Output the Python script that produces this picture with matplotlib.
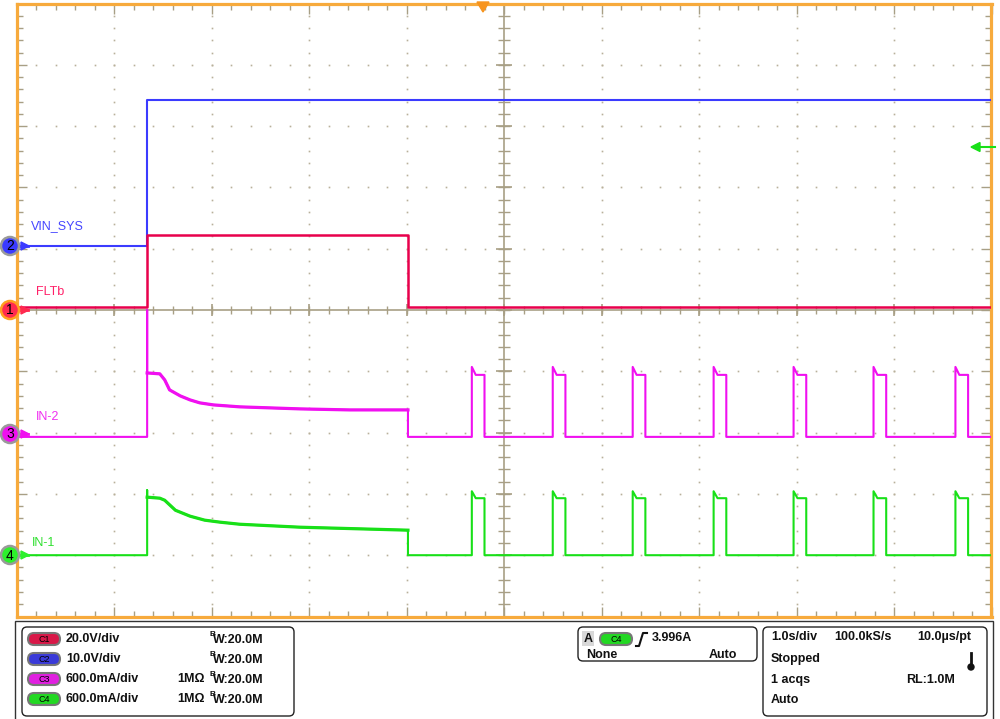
import matplotlib.pyplot as plt
import numpy as np
from matplotlib.patches import FancyBboxPatch, Circle, Polygon, Rectangle

# ---- data (time in s, 1 s/div, left edge = 0 s) ----
t_step = 1.34          # supply applied
t_fault_end = 4.015    # FLTb released
t_end = 10.0

vin_low, vin_high = 0.0, 23.8        # C2, V
fltb_low, fltb_high = 1.0, 24.5      # C1, V

# IN-2 (C3) current after the step, A
in2_decay_t = [1.34, 1.47, 1.52, 1.57, 1.68, 1.78, 1.88, 2.02, 2.29, 2.60, 2.91, 3.42, 4.015]
in2_decay_a = [0.626, 0.617, 0.558, 0.460, 0.401, 0.362, 0.333, 0.313, 0.294, 0.284, 0.274, 0.264, 0.264]
in2_step_spike = 1.24

# IN-1 (C4) current after the step, A
in1_decay_t = [1.34, 1.47, 1.52, 1.63, 1.78, 1.93, 2.09, 2.29, 2.91, 4.015]
in1_decay_a = [0.568, 0.558, 0.538, 0.440, 0.382, 0.343, 0.323, 0.303, 0.274, 0.245]
in1_step_spike = 0.636

# retry pulses after the fault clears
pulse_starts = [4.67, 5.50, 6.32, 7.15, 7.97, 8.79, 9.63]
pulse_width = 0.13
pulse_spike_len = 0.04
in2_pulse_spike, in2_pulse_flat = 0.685, 0.607
in1_pulse_spike, in1_pulse_flat = 0.626, 0.558

# channel scale (units/div) and offset (div)
scale = {'C1': 20.0, 'C2': 10.0, 'C3': 0.6, 'C4': 0.6}
offset = {'C1': 0.0, 'C2': 1.04, 'C3': -2.07, 'C4': -4.0}

col = {'C1': '#e8004c', 'C2': '#3b3bff', 'C3': '#f010f0', 'C4': '#18e018'}


def to_div(ch, v):
    return np.asarray(v) / scale[ch] + offset[ch]


def current_trace(decay_t, decay_a, step_spike, p_spike, p_flat):
    t = [0, t_step, t_step, t_step] + decay_t[1:] + [t_fault_end]
    a = [0, 0, step_spike, decay_a[0]] + decay_a[1:] + [0]
    for s in pulse_starts:
        t += [s, s, s + pulse_spike_len, s + pulse_width, s + pulse_width]
        a += [0, p_spike, p_flat, p_flat, 0]
    t.append(t_end)
    a.append(0)
    return np.array(t), np.array(a)


fig = plt.figure(figsize=(10, 7.19), dpi=100)
fig.patch.set_facecolor('white')

grid_col = '#a89f85'
ax = fig.add_axes([16.5 / 1000, (719 - 616.5) / 719, 975 / 1000, 613 / 719])
ax.set_xlim(0, 10)
ax.set_ylim(-5, 5)
ax.set_xticks(np.arange(0, 11, 1))
ax.set_yticks(np.arange(-5, 6, 1))
ax.set_xticks(np.arange(0, 10.01, 0.2), minor=True)
ax.set_yticks(np.arange(-5, 5.01, 0.2), minor=True)
ax.tick_params(which='both', direction='in', top=True, right=True,
               labelbottom=False, labelleft=False, color=grid_col, width=1)
ax.tick_params(which='major', length=7)
ax.tick_params(which='minor', length=4)
for sp in ax.spines.values():
    sp.set_color('#f7aa3c')
    sp.set_linewidth(2.3)

# dotted graticule
for gx in range(1, 10):
    if gx == 5:
        continue
    yy = np.arange(-5, 5.01, 0.2)
    ax.plot(np.full_like(yy, gx), yy, ls='none', marker='s', ms=1.2, color='#b8b09a', mew=0)
for gy in range(-4, 5):
    if gy == 0:
        continue
    xx = np.arange(0, 10.01, 0.2)
    ax.plot(xx, np.full_like(xx, gy), ls='none', marker='s', ms=1.2, color='#b8b09a', mew=0)

# centre cross with ticks
ax.axhline(0, color=grid_col, lw=1.2, zorder=1)
ax.axvline(5, color=grid_col, lw=1.2, zorder=1)
xx = np.arange(0, 10.01, 0.2)
ax.plot(xx, np.zeros_like(xx), ls='none', marker='|', ms=6, color=grid_col, mew=1)
ax.plot(np.arange(0, 11), np.zeros(11), ls='none', marker='|', ms=9, color=grid_col, mew=1.2)
yy = np.arange(-5, 5.01, 0.2)
ax.plot(np.full_like(yy, 5), yy, ls='none', marker='_', ms=8, color=grid_col, mew=1)
ax.plot(np.full(11, 5), np.arange(-5, 6), ls='none', marker='_', ms=11, color=grid_col, mew=1.2)

# traces
c1_t = [0, t_step, t_step, t_fault_end, t_fault_end, t_end]
c1_v = [fltb_low, fltb_low, fltb_high, fltb_high, fltb_low, fltb_low]
ax.plot(c1_t, to_div('C1', c1_v), color=col['C1'], lw=1.8, zorder=5)
c2_t = [0, t_step, t_step, t_end]
c2_v = [vin_low, vin_low, vin_high, vin_high]
ax.plot(c2_t, to_div('C2', c2_v), color=col['C2'], lw=1.5, zorder=4)

t3, a3 = current_trace(in2_decay_t, in2_decay_a, in2_step_spike, in2_pulse_spike, in2_pulse_flat)
ax.plot(t3, to_div('C3', a3), color=col['C3'], lw=1.5, zorder=4)
ax.plot(in2_decay_t, to_div('C3', in2_decay_a), color=col['C3'], lw=2.3, zorder=4)
t4, a4 = current_trace(in1_decay_t, in1_decay_a, in1_step_spike, in1_pulse_spike, in1_pulse_flat)
ax.plot(t4, to_div('C4', a4), color=col['C4'], lw=1.5, zorder=4)
ax.plot(in1_decay_t, to_div('C4', in1_decay_a), color=col['C4'], lw=2.3, zorder=4)

# ---- overlay in pixel coordinates ----
ov = fig.add_axes([0, 0, 1, 1])
ov.set_xlim(0, 1000)
ov.set_ylim(719, 0)
ov.axis('off')

# trigger position and level markers
ov.add_patch(Polygon([(477, 2), (489, 2), (483, 12)], color='#f7941d'))
ov.add_patch(Polygon([(971, 147), (980, 142.5), (980, 151.5)], color=col['C4']))
ov.plot([978, 995], [147, 147], color=col['C4'], lw=1.5)

# channel reference markers
markers = [('2', 246, col['C2'], '#9a9a9a'), ('1', 310, '#ff2a50', '#ffa020'),
           ('3', 434, col['C3'], '#9a9a9a'), ('4', 555, '#2cf02c', '#9a9a9a')]
for num, y, fc, ec in markers:
    ov.plot([16, 28], [y, y], color=fc, lw=2)
    ov.add_patch(Polygon([(21, y - 4), (29, y), (21, y + 4)], color=fc))
    ov.add_patch(Circle((10, y), 9, facecolor=fc, edgecolor=ec, lw=1.8, zorder=6))
    ov.text(10, y + 0.5, num, ha='center', va='center', fontsize=10,
            family='Liberation Sans', color='black', zorder=7)

labels = [('VIN_SYS', 31, 226, '#4545ff'), ('FLTb', 36, 292, '#ff2068'),
          ('IN-2', 36, 417, '#f030f0'), ('IN-1', 32, 543, '#30e030')]
for txt, x, y, c in labels:
    ov.text(x, y, txt, ha='left', va='center', fontsize=9, family='Liberation Sans', color=c)

# ---- bottom panel ----
ov.add_patch(Rectangle((15, 621), 978, 100, facecolor='white', edgecolor='#333333', lw=1))


def rbox(x0, y0, x1, y1):
    ov.add_patch(FancyBboxPatch((x0, y0), x1 - x0, y1 - y0,
                                boxstyle='round,pad=0,rounding_size=5',
                                facecolor='white', edgecolor='#222222', lw=1))


def badge(cx, cy, text, fc):
    ov.add_patch(FancyBboxPatch((cx - 16, cy - 6), 32, 12,
                                boxstyle='round,pad=0,rounding_size=6',
                                facecolor=fc, edgecolor='#777777', lw=1.5))
    ov.text(cx, cy + 0.5, text, ha='center', va='center', fontsize=6.5,
            family='Liberation Sans', color='black')


bold = dict(family='Liberation Sans', fontweight='bold', fontsize=9, color='#111111', va='center')

rbox(22, 627, 294, 716)
rows = [('C1', '20.0V/div', '', '#d81848'), ('C2', '10.0V/div', '', '#3a3ad8'),
        ('C3', '600.0mA/div', '1M\u03a9', '#e020e0'), ('C4', '600.0mA/div', '1M\u03a9', '#22d822')]
for i, (ch, vdiv, imp, fc) in enumerate(rows):
    y = 639 + 20 * i
    badge(44, y, ch, fc)
    ov.text(66, y, vdiv, ha='left', **bold)
    if imp:
        ov.text(177, y, imp, ha='left', **bold)
    ov.text(209, y - 4, 'B', ha='left', family='Liberation Sans', fontweight='bold',
            fontsize=6, color='#111111', va='center')
    ov.text(213, y + 1, 'W:20.0M', ha='left', **bold)

rbox(578, 627, 757, 661)
ov.add_patch(Rectangle((582, 631), 12, 15, facecolor='#d8d8d8', edgecolor='none'))
ov.text(588, 639, 'A', ha='center', **bold)
badge(616, 639, 'C4', '#22d822')
ov.plot([636, 639, 643, 647], [646, 646, 633, 633], color='#111111', lw=1.5)
ov.text(652, 638, '3.996A', ha='left', **bold)
ov.text(586, 655, 'None', ha='left', **bold)
ov.text(709, 655, 'Auto', ha='left', **bold)

rbox(763, 627, 987, 716)
ov.text(771, 637, '1.0s/div', ha='left', **bold)
ov.text(834, 637, '100.0kS/s', ha='left', **bold)
ov.text(917, 637, '10.0\u00b5s/pt', ha='left', **bold)
ov.text(771, 659, 'Stopped', ha='left', **bold)
ov.text(771, 680, '1 acqs', ha='left', **bold)
ov.text(906, 680, 'RL:1.0M', ha='left', **bold)
ov.text(771, 700, 'Auto', ha='left', **bold)
# thermometer icon
ov.plot([971, 971], [653, 666], color='#111111', lw=2)
ov.add_patch(Circle((971, 667), 3, color='#111111'))

fig.savefig('out.png', dpi=100)
